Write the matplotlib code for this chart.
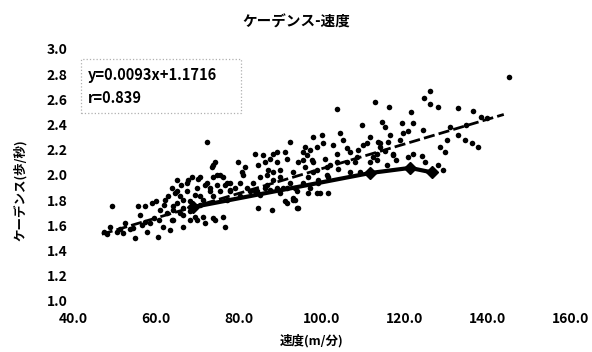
import numpy as np
import matplotlib.pyplot as plt
from matplotlib.patches import Rectangle

plt.rcParams['font.family'] = ['Noto Sans CJK JP', 'DejaVu Sans']

# scatter data: speed (m/min), cadence (steps/sec)
speed = [
    49.4, 65.1, 55.7, 57.4, 59.1, 60.0, 62.2, 56.2, 48.9, 48.2, 50.6, 52.6, 53.8, 55.0, 56.7,
    58.6, 60.5, 60.8, 61.7, 63.4, 63.9, 62.7, 64.2, 64.6, 65.1,
    47.5, 51.5, 54.5, 58.0, 64.0, 63.0, 62.0, 61.0, 59.5, 57.5, 52.0, 66.0, 66.5,
    72.4, 67.8, 70.2, 72.4, 73.6, 74.3, 74.8, 76.2, 76.7, 77.9, 79.9, 80.8, 81.5, 80.3, 83.9,
    84.7, 85.9, 86.4, 87.6, 88.4, 87.1, 88.3, 89.3, 84.7, 88.1, 68.3, 70.0, 71.9, 74.3, 76.7,
    65.1, 66.6, 68.3, 69.5, 71.4, 73.1, 75.5, 77.9, 82.8, 84.4, 86.4, 87.6, 89.3, 64.2, 65.8,
    64.2, 66.6,
    91.7, 94.3, 96.5, 98.0, 96.0, 93.1, 90.0, 86.9, 91.7, 93.6, 94.3, 97.2,
    73.8, 75.5, 73.8, 70.7, 68.7, 67.5, 70.0, 71.9, 73.1, 74.8, 77.2, 77.9, 79.1, 81.1, 82.0,
    83.5, 84.0, 85.2, 86.9, 88.3, 90.0, 90.7, 92.4, 93.6, 95.6, 96.8, 65.8, 66.6, 68.3, 69.5,
    70.7, 67.5, 70.7, 73.8, 77.2, 80.3, 85.2, 90.0, 94.1, 71.4, 73.8, 76.2,
    113.0, 103.8, 109.8, 92.4, 98.0, 100.1, 100.4, 104.5, 105.2, 102.8, 111.7, 111.0, 113.7,
    89.3, 91.2, 95.6, 97.2, 98.9, 95.6, 97.7, 100.9, 103.8, 106.2, 106.9, 108.8, 108.6, 106.2,
    103.8, 101.4, 98.9, 106.9, 109.3, 99.2, 101.6, 111.7, 113.4, 91.7, 93.1, 98.9, 101.6,
    126.2, 124.8, 126.2, 128.2, 133.0, 136.6, 116.3, 121.6, 114.6, 115.4, 119.5, 122.1, 124.5,
    119.7, 120.9, 116.6, 119.0, 116.1, 114.2, 115.4, 117.3, 112.5, 122.1, 124.3, 128.6, 129.9,
    130.3, 133.0, 134.7, 136.4, 137.8, 129.4,
    145.3, 138.6, 140.0, 135.0, 131.0,
    110.0, 114.2, 117.3, 128.2, 113.4, 108.1, 102.0, 115.8, 98.0, 101.4, 99.2, 99.7, 118.0,
    121.0, 125.0, 104.0, 96.0, 91.2, 93.1, 94.1, 96.8,
]
cadence = [
    1.75, 1.96, 1.75, 1.75, 1.78, 1.79, 1.80, 1.68, 1.59, 1.53, 1.55, 1.62, 1.57, 1.50, 1.60,
    1.62, 1.51, 1.64, 1.59, 1.56, 1.64, 1.70, 1.72, 1.86, 1.78,
    1.55, 1.57, 1.58, 1.55, 1.90, 1.83, 1.76, 1.72, 1.66, 1.63, 1.54, 1.92, 1.68,
    2.26, 1.96, 1.97, 1.94, 2.06, 2.10, 2.00, 1.98, 1.92, 1.94, 2.10, 2.02, 2.06, 1.94, 2.17,
    2.08, 2.16, 2.10, 2.13, 2.17, 2.04, 2.02, 2.10, 1.74, 1.72, 1.64, 1.64, 1.62, 1.64, 1.59,
    1.87, 1.80, 1.79, 1.84, 1.80, 1.87, 1.87, 1.87, 1.87, 1.87, 1.90, 1.88, 1.90, 1.75, 1.70,
    1.64, 1.59,
    2.13, 2.10, 2.16, 2.10, 2.06, 2.02, 2.04, 2.00, 1.78, 1.80, 1.74, 1.90,
    2.08, 2.00, 1.98, 1.98, 1.98, 1.94, 1.90, 1.92, 1.90, 1.92, 1.94, 1.88, 1.90, 2.00, 1.90,
    1.94, 1.87, 1.98, 1.92, 1.96, 1.98, 1.90, 1.94, 1.90, 1.94, 1.98, 1.83, 1.74, 1.71, 1.67,
    1.76, 1.87, 1.83, 1.83, 1.80, 1.83, 1.84, 1.86, 1.87, 1.67, 1.66, 1.67,
    2.58, 2.52, 2.40, 2.26, 2.30, 2.32, 2.25, 2.33, 2.28, 2.24, 2.30, 2.25, 2.26,
    2.18, 2.18, 2.18, 2.20, 2.22, 2.12, 2.12, 2.13, 2.17, 2.21, 2.18, 2.20, 2.14, 2.10,
    2.10, 2.06, 2.04, 2.02, 2.02, 1.96, 1.98, 2.10, 2.17, 1.90, 1.82, 1.86, 1.86,
    2.67, 2.61, 2.56, 2.54, 2.53, 2.51, 2.54, 2.50, 2.42, 2.38, 2.41, 2.41, 2.36,
    2.33, 2.35, 2.32, 2.28, 2.26, 2.22, 2.19, 2.17, 2.14, 2.17, 2.15, 2.22, 2.18,
    2.28, 2.32, 2.28, 2.25, 2.22, 2.04,
    2.78, 2.46, 2.45, 2.40, 2.38,
    2.24, 2.25, 2.16, 2.08, 2.12, 2.10, 2.08, 2.08, 2.02, 2.00, 1.94, 1.86, 2.12,
    2.14, 2.10, 2.05, 2.22, 1.79, 1.80, 1.74, 1.86,
]

# averaged series (solid line with diamonds)
avg_speed = [69.0, 111.7, 121.4, 126.7]
avg_cadence = [1.745, 2.015, 2.056, 2.02]

# trend line drawn in the chart
trend_x = [47.0, 144.0]
trend_y = [1.53, 2.48]

eq_text = 'y=0.0093x+1.1716'
r_text = 'r=0.839'

fig = plt.figure(figsize=(5.92, 3.52), dpi=100)
ax = fig.add_axes([0.123, 0.145, 0.840, 0.716])

ax.scatter(speed, cadence, s=16, color='black', zorder=3, linewidths=0)
ax.plot(avg_speed, avg_cadence, '-', color='black', linewidth=3.0,
        marker='D', markersize=6, zorder=4)
ax.plot(trend_x, trend_y, '--', color='black', linewidth=2.0,
        dashes=(4, 1.5), zorder=4)

ax.set_xlim(40, 160)
ax.set_ylim(1.0, 3.0)
ax.set_xticks(np.arange(40, 161, 20))
ax.set_yticks(np.arange(1.0, 3.01, 0.2))
ax.xaxis.set_major_formatter(plt.FuncFormatter(lambda v, _: f'{v:.1f}'))
ax.yaxis.set_major_formatter(plt.FuncFormatter(lambda v, _: f'{v:.1f}'))
for s in ax.spines.values():
    s.set_visible(False)
ax.tick_params(length=0, labelsize=10, pad=4)
ax.tick_params(axis='x', pad=8)
for lbl in ax.get_xticklabels() + ax.get_yticklabels():
    lbl.set_fontweight('bold')

ax.set_title('ケーデンス-速度', fontsize=10.5, fontweight='bold', pad=16, x=0.45)
ax.set_xlabel('速度(m/分)', fontsize=9, fontweight='bold')
# y label placed as a figure text so its position is exact
fig.text(0.035, 0.46, 'ケーデンス(歩/秒)', rotation=90, fontsize=9,
         fontweight='bold', ha='center', va='center')
ax.xaxis.set_label_coords(0.48, -0.13)

# equation box
ax.add_patch(Rectangle((0.016, 0.746), 0.322, 0.214, transform=ax.transAxes,
                       fill=False, edgecolor='#b0b0b0', linestyle=':', linewidth=0.9))
ax.text(0.030, 0.897, eq_text, transform=ax.transAxes, fontsize=10.5,
        va='center', ha='left', fontweight='bold')
ax.text(0.030, 0.806, r_text, transform=ax.transAxes, fontsize=10.5,
        va='center', ha='left', fontweight='bold')

plt.savefig('out.png', dpi=100)
